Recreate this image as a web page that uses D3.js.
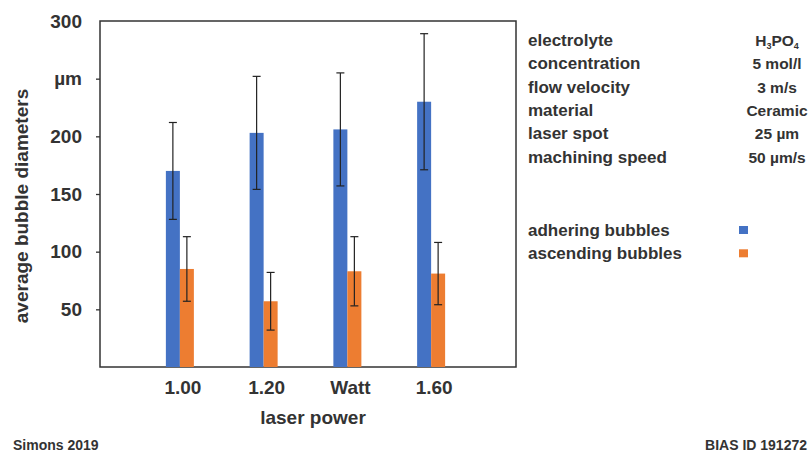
<!DOCTYPE html>
<html>
<head>
<meta charset="utf-8">
<script src="https://cdn.jsdelivr.net/npm/d3@7"></script>
<style>
  body { margin: 0; background: #fff; }
  svg { font-family: "Liberation Sans", Arial, sans-serif; font-weight: bold; }
</style>
</head>
<body>
<svg id="chart" width="810" height="452"></svg>
<script>
// data
const categories = ['1.00', '1.20', 'Watt', '1.60'];
const adhering = [170, 203, 206, 230];
const adheringErr = [42, 49, 49, 59];
const ascending = [85, 57, 83, 81];
const ascendingErr = [28, 25, 30, 27];
const yTicks = [50, 100, 150, 200, 250, 300];
const yTickLabels = ['50', '100', '150', '200', 'µm', '300'];
const paramNames = ['electrolyte', 'concentration', 'flow velocity', 'material', 'laser spot', 'machining speed'];
const paramValues = ['H3PO4', '5 mol/l', '3 m/s', 'Ceramic', '25 µm', '50 µm/s'];
const seriesNames = ['adhering bubbles', 'ascending bubbles'];
const colors = ['#4472C4', '#ED7D31'];

const svg = d3.select('#chart');
const textColor = '#333';
const font = '"Liberation Sans", Arial, sans-serif';

const box = { left: 100, right: 516, top: 21, bottom: 367 };

const y = d3.scaleLinear().domain([0, 300]).range([box.bottom, box.top]);
const x = d3.scaleBand().domain(categories).range([138, 473]);
const barW = 14;

// frame
svg.append('rect')
  .attr('x', box.left).attr('y', box.top)
  .attr('width', box.right - box.left).attr('height', box.bottom - box.top)
  .attr('fill', 'none').attr('stroke', '#333').attr('stroke-width', 1.5);

// y axis
const yAxis = svg.append('g')
  .attr('transform', `translate(${box.left},0)`)
  .call(d3.axisLeft(y).tickValues(yTicks).tickSize(4).tickPadding(14)
    .tickFormat((d, i) => yTickLabels[i]));
yAxis.select('.domain').remove();
yAxis.selectAll('line').attr('stroke', '#333').attr('stroke-width', 1.3);
yAxis.selectAll('text')
  .attr('fill', textColor).style('font-size', '19px').style('font-weight', 'bold')
  .style('font-family', font);
yAxis.selectAll('.tick').filter(d => d === 300).select('line').remove();

// x labels
const xAxis = svg.append('g')
  .attr('transform', `translate(3,${box.bottom})`)
  .call(d3.axisBottom(x).tickSize(0).tickPadding(14));
xAxis.select('.domain').remove();
xAxis.selectAll('text')
  .attr('fill', textColor).style('font-size', '19px').style('font-weight', 'bold')
  .style('font-family', font);

svg.append('text')
  .attr('x', 313).attr('y', 424)
  .attr('text-anchor', 'middle').attr('fill', textColor)
  .style('font-size', '19px')
  .text('laser power');

svg.append('text')
  .attr('transform', 'translate(28,206) rotate(-90)')
  .attr('text-anchor', 'middle').attr('fill', textColor)
  .style('font-size', '19px')
  .text('average bubble diameters');

// bars
const series = [
  { vals: adhering, err: adheringErr, off: -barW },
  { vals: ascending, err: ascendingErr, off: 0 }
];

series.forEach((s, si) => {
  const g = svg.append('g');
  g.selectAll('rect')
    .data(categories)
    .enter()
    .append('rect')
    .attr('x', d => x(d) + x.bandwidth() / 2 + s.off)
    .attr('y', (d, i) => y(s.vals[i]))
    .attr('width', barW)
    .attr('height', (d, i) => y(0) - y(s.vals[i]))
    .attr('fill', colors[si]);

  const eb = svg.append('g').attr('stroke', '#222').attr('stroke-width', 1.2);
  categories.forEach((c, i) => {
    const cx = x(c) + x.bandwidth() / 2 + s.off + barW / 2;
    const hi = y(s.vals[i] + s.err[i]);
    const lo = y(s.vals[i] - s.err[i]);
    eb.append('line').attr('x1', cx).attr('x2', cx).attr('y1', hi).attr('y2', lo);
    eb.append('line').attr('x1', cx - 4).attr('x2', cx + 4).attr('y1', hi).attr('y2', hi);
    eb.append('line').attr('x1', cx - 4).attr('x2', cx + 4).attr('y1', lo).attr('y2', lo);
  });
});

// parameter table
const table = svg.append('g').attr('fill', textColor).style('font-size', '17px');
paramNames.forEach((n, i) => {
  const ty = 46 + i * 23.3;
  table.append('text').attr('x', 528).attr('y', ty).text(n);
  const t = table.append('text').attr('x', 777).attr('y', ty)
    .attr('text-anchor', 'middle').style('font-size', '15.5px');
  if (paramValues[i] === 'H3PO4') {
    t.append('tspan').text('H');
    t.append('tspan').text('3').style('font-size', '9px').attr('dy', 3);
    t.append('tspan').text('PO').attr('dy', -3);
    t.append('tspan').text('4').style('font-size', '9px').attr('dy', 3);
  } else {
    t.text(paramValues[i]);
  }
});

// legend
seriesNames.forEach((n, i) => {
  const ly = 236 + i * 23.3;
  table.append('text').attr('x', 528).attr('y', ly).text(n);
  svg.append('rect')
    .attr('x', 739).attr('y', ly - 10).attr('width', 9).attr('height', 8)
    .attr('fill', colors[i]);
});

// footer
svg.append('text').attr('x', 13).attr('y', 450).attr('fill', textColor)
  .style('font-size', '14px').text('Simons 2019');
svg.append('text').attr('x', 807).attr('y', 450).attr('fill', textColor)
  .attr('text-anchor', 'end').style('font-size', '14px').text('BIAS ID 191272');
</script>
</body>
</html>
